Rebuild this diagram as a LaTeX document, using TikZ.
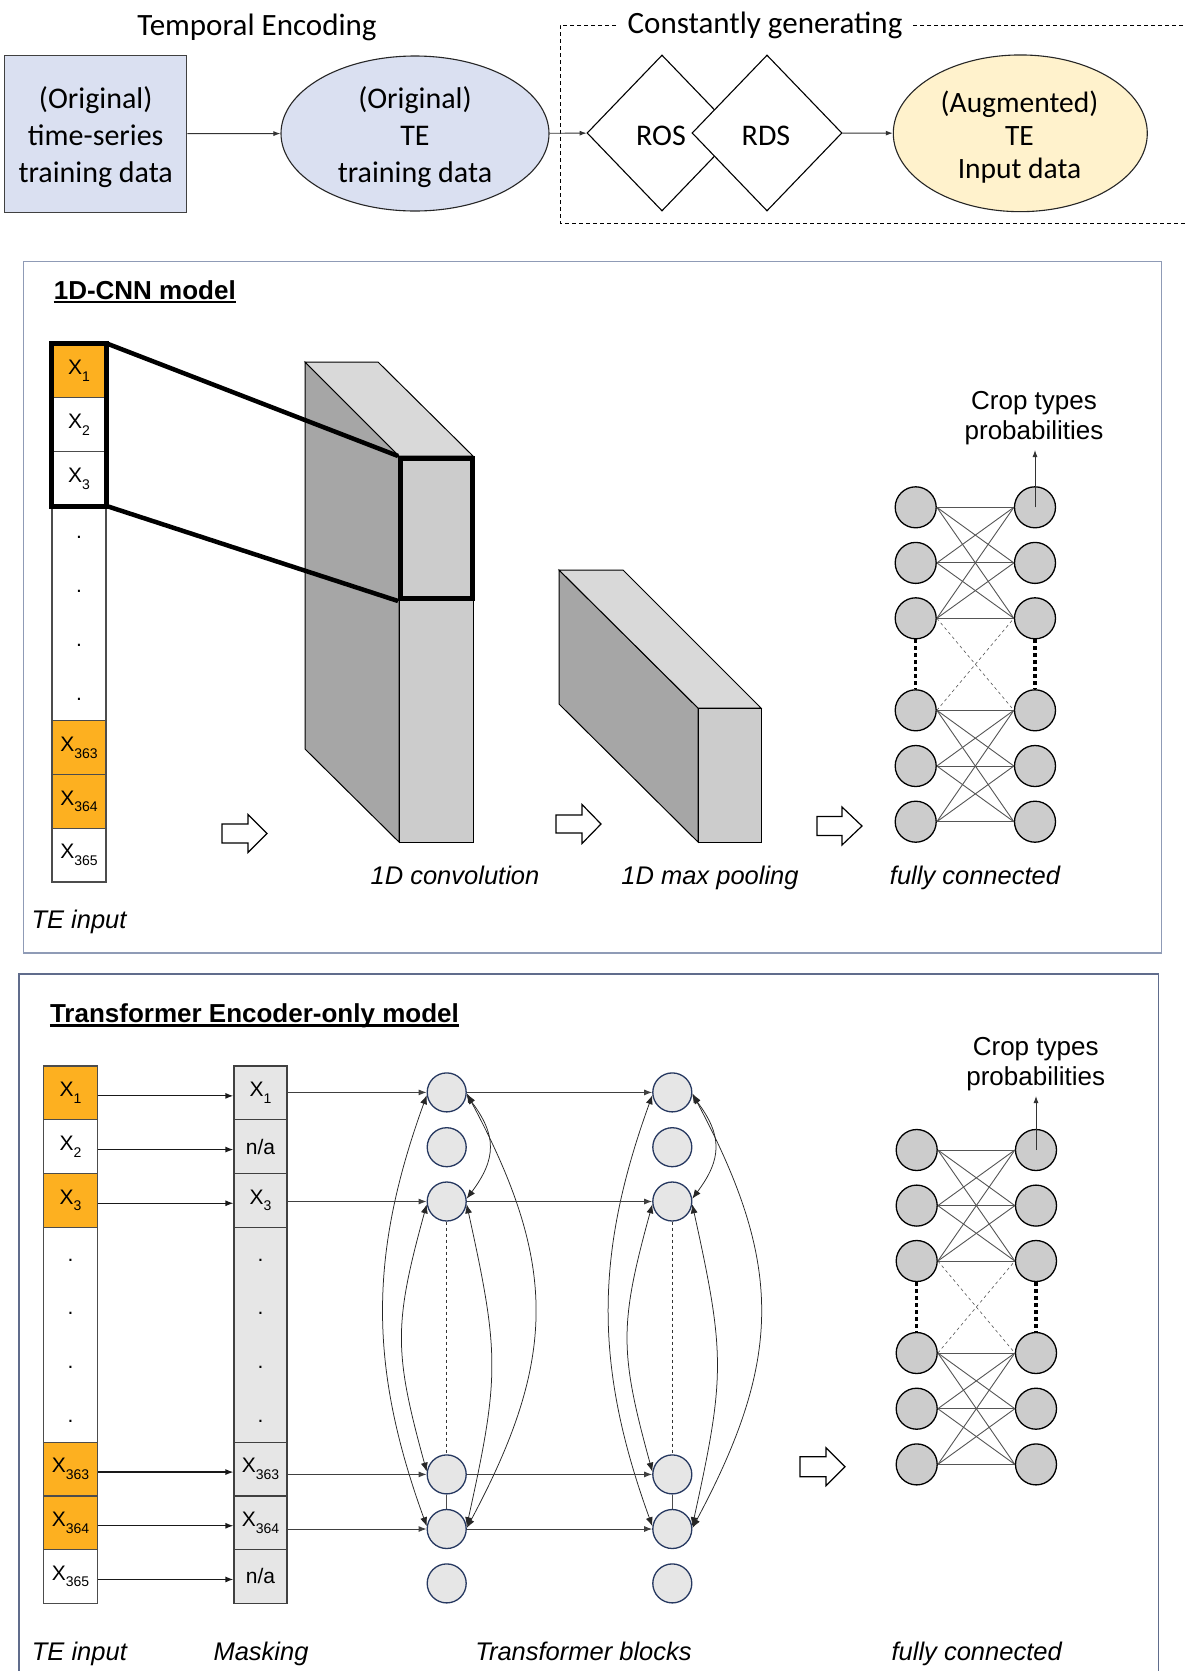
\documentclass[tikz,border=0pt]{standalone}
\usepackage{fontspec}
\setmainfont{Liberation Sans}
\newfontfamily\calibri{Carlito}
\usetikzlibrary{shapes.geometric,arrows.meta}
\definecolor{orangec}{RGB}{253,176,32}
\definecolor{bluefill}{RGB}{218,224,241}
\definecolor{yellowfill}{RGB}{255,242,204}
\definecolor{maskgrey}{RGB}{230,230,230}
\definecolor{nodegrey}{RGB}{204,204,204}
\definecolor{sidegrey}{RGB}{166,166,166}
\definecolor{frontgrey}{RGB}{204,204,204}
\definecolor{topgrey}{RGB}{217,217,217}
\definecolor{navyc}{RGB}{38,56,96}
\definecolor{panelA}{RGB}{143,155,182}
\definecolor{panelB}{RGB}{96,108,140}
\definecolor{edgegrey}{RGB}{85,85,85}
\newcommand\Xsub[1]{X\raisebox{-0.32em}{\fontsize{14}{14}\selectfont #1}}
\newcommand\fcnet[3]{%
  \foreach \i/\dy in {1/0,2/55.6,3/111,4/203,5/258.7,6/314.4}{%
    \node[fcnode] (#1L\i) at (#2,#3+\dy) {};
    \node[fcnode] (#1R\i) at (#2+119.3,#3+\dy) {};
  }%
  \foreach \i in {1,2,3}{\foreach \j in {1,2,3}{\draw[fcedge] (#1L\i.east) -- (#1R\j.west);}}%
  \foreach \i in {4,5,6}{\foreach \j in {4,5,6}{\draw[fcedge] (#1L\i.east) -- (#1R\j.west);}}%
  \draw[fcedge,dashed,line width=0.6pt] (#1L3.east) -- (#1R4.west);
  \draw[fcedge,dashed,line width=0.6pt] (#1L4.east) -- (#1R3.west);
  \draw[dotline] (#1L3.south) -- (#1L4.north);
  \draw[dotline] (#1R3.south) -- (#1R4.north);
}
\newcommand\tblock[2]{%
  \foreach \i/\yy in {1/1092.4,2/1147.2,3/1201.5,4/1474.4,5/1529,6/1583.4}{%
    \node[tnode] (#1\i) at (#2,\yy) {};}%
  \draw[dashed,draw=black!80,line width=0.8pt] (#13.south) -- (#14.north);
  \draw[draw=black!70,line width=0.8pt] (#14.south) -- (#15.north);
  \draw[arcarrow] (#11.188) .. controls +(-58,160) and +(-58,-160) .. (#15.172);
  \draw[arcarrow] (#13.188) .. controls +(-33,120) and +(-33,-120) .. (#14.172);
  \draw[arcarrow] (#11.352) .. controls +(30,40) and +(30,-40) .. (#13.8);
  \draw[arcarrow] (#13.352) .. controls +(33,150) and +(33,-150) .. (#15.8);
  \draw[arcarrow] (#11.357) .. controls +(91,170) and +(91,-170) .. (#15.3);
}
\begin{document}
\begin{tikzpicture}[x=1pt,y=-1pt,
  topfont/.style={font=\calibri\fontsize{30}{37}\selectfont},
  titlefont/.style={font=\calibri\fontsize{31}{37}\selectfont},
  toptext/.style={topfont,align=center,inner sep=0pt},
  topbox/.style={draw=black!75,line width=1.3pt,fill=bluefill,minimum width=182pt,minimum height=157pt,inner sep=0pt},
  topell/.style={ellipse,draw=black!85,line width=1.1pt,minimum width=268pt,minimum height=155pt,inner sep=0pt},
  diam/.style={diamond,draw=black,line width=1.1pt,fill=white,minimum width=150pt,minimum height=156pt,inner sep=0pt},
  tarrow/.style={-{Latex[length=7pt,width=5pt]},draw=black!80,line width=0.9pt},
  cellst/.style={draw=black!70,line width=1.2pt,minimum width=54pt,minimum height=53.8pt,inner sep=0pt,font=\fontsize{21}{21}\selectfont},
  mcell/.style={cellst,fill=maskgrey,draw=black!75,minimum width=53pt,minimum height=53.7pt},
  dotst/.style={inner sep=0pt,font=\fontsize{21}{21}\selectfont},
  fcnode/.style={circle,draw=black,line width=1.3pt,fill=nodegrey,minimum size=41pt,inner sep=0pt},
  fcedge/.style={draw=edgegrey,line width=0.9pt},
  dotline/.style={line width=3.5pt,dash pattern=on 3.5pt off 3.5pt},
  tnode/.style={circle,draw=navyc,line width=1.3pt,fill=maskgrey,minimum size=39pt,inner sep=0pt},
  arcarrow/.style={{Latex[length=9pt,width=7pt]}-{Latex[length=9pt,width=7pt]},draw=black!85,line width=0.75pt},
  harrow/.style={-{Latex[length=8pt,width=6pt]},draw=black!75,line width=0.9pt},
  harrowb/.style={-{Latex[length=8pt,width=6pt]},draw=black!90,line width=1.2pt},
  blockarrow/.style={draw=black,line width=1.2pt,fill=white},
  lbl/.style={font=\itshape\fontsize{25.5}{30}\selectfont,anchor=base},
  ttl/.style={font=\bfseries\fontsize{26}{30}\selectfont,inner sep=0pt,anchor=base west},
  crop/.style={font=\fontsize{26}{30.5}\selectfont,align=center}
]
\useasboundingbox (0,0) rectangle (1184,1671);
\fill[white] (0,0) rectangle (1184,1671);

% ---------------- top section ----------------
\node[titlefont] (tenc) at (257,27.5) {Temporal Encoding};
\draw[line width=1pt,dash pattern=on 4pt off 3pt] (1190,25) -- (560,25) -- (560,223) -- (1190,223);
\node[titlefont,fill=white,inner xsep=10pt,inner ysep=2pt] (cgen) at (765,25.5) {Constantly generating};
\node[topbox] (orig) at (95.7,133.7) {};
\node[toptext] (origt) at (95.7,137) {(Original)\\time-series\\training data};
\node[topell,fill=bluefill] (te) at (415,133.5) {};
\node[toptext] (tet) at (415,137) {(Original)\\TE\\training data};
\node[diam] (ros) at (662,133) {};
\node[topfont] (rost) at (661,135.5) {ROS};
\node[diam] (rds) at (767,133) {};
\node[topfont] (rdst) at (766,135.5) {RDS};
\node[topell,fill=yellowfill,minimum width=254pt,minimum height=156.7pt] (aug) at (1020.3,133.3) {};
\node[toptext,font=\calibri\fontsize{29.5}{33}\selectfont] (augt) at (1019.5,137) {(Augmented)\\TE\\Input data};
\draw[tarrow] (orig) -- (te);
\draw[tarrow] (te) -- (ros);
\draw[tarrow] (rds) -- (aug);

% ---------------- CNN panel ----------------
\draw[draw=panelA,line width=1.3pt] (23.5,261.5) rectangle (1161.5,953);
\node[ttl] (cnnt) at (53.6,299.5) {1D-CNN model};
\draw[line width=2.3pt] ([yshift=-2.5pt]cnnt.base west) -- ([yshift=-2.5pt]cnnt.base east);

% TE input column
\node[cellst,fill=orangec] (ca1) at (79,370.9) {\Xsub{1}};
\node[cellst,fill=white] (ca2) at (79,424.7) {\Xsub{2}};
\node[cellst,fill=white] (ca3) at (79,478.5) {\Xsub{3}};
\node[cellst,fill=white,minimum height=215.2pt] (ca4) at (79,613) {};
\node[cellst,fill=orangec] (ca8) at (79,747.5) {\Xsub{363}};
\node[cellst,fill=orangec] (ca9) at (79,801.3) {\Xsub{364}};
\node[cellst,fill=white] (ca10) at (79,855.1) {\Xsub{365}};
\foreach \k/\yy in {1/537.5,2/591.3,3/645.1,4/698.9}{\node[dotst] (cdot\k) at (79,\yy) {.};}
\draw[line width=5pt] (ca1.north west) rectangle (ca3.south east);

% conv block
\draw[line width=1pt,fill=sidegrey] (305,362) -- (399,456) -- (399,842) -- (305,749) -- cycle;
\draw[line width=1pt,fill=topgrey] (305,362) -- (378,362) -- (473,456) -- (399,456) -- cycle;
\draw[line width=1pt,fill=frontgrey] (399,456) rectangle (473,842);
\node[draw,line width=5pt,minimum width=71.5pt,minimum height=140pt,inner sep=0pt] (win) at (436.3,528.5) {};
\draw[line width=4.5pt] (ca1.north east) -- (win.north west);
\draw[line width=4.5pt] (ca3.south east) -- (win.south west);

% pooling block
\draw[line width=1pt,fill=sidegrey] (559,570) -- (698,708) -- (698,842) -- (559,704) -- cycle;
\draw[line width=1pt,fill=topgrey] (559,570) -- (623,570) -- (761,708) -- (698,708) -- cycle;
\draw[line width=1pt,fill=frontgrey] (698,708) rectangle (761,842);

% block arrows
\draw[blockarrow] (222,824) -- (248,824) -- (248,814.5) -- (267,833.5) -- (248,852.5) -- (248,843) -- (222,843) -- cycle;
\draw[blockarrow] (556,815) -- (582,815) -- (582,804.5) -- (601,824) -- (582,843.5) -- (582,833) -- (556,833) -- cycle;
\draw[blockarrow] (817,816.5) -- (842,816.5) -- (842,807) -- (862,826) -- (842,845) -- (842,835.5) -- (817,835.5) -- cycle;

% FC network (CNN)
\fcnet{a}{915.7}{507.3}
\coordinate (cropA) at (1035,450);
\draw[tarrow] (aR1.center) -- (cropA);
\node[crop] (cropAt) at (1034,418) {Crop types\\probabilities};

% labels
\node[lbl] (lteA) at (79,928) {TE input};
\node[lbl] (lconv) at (455,884.3) {1D convolution};
\node[lbl] (lpool) at (710,884.3) {1D max pooling};
\node[lbl] (lfcA) at (975,884.3) {fully connected};

% ---------------- Transformer panel ----------------
\draw[draw=panelB,line width=1.3pt] (19,974) rectangle (1158.3,1700);
\node[ttl] (trt) at (49.8,1022.6) {Transformer Encoder-only model};
\draw[line width=2.3pt] ([yshift=-3pt]trt.base west) -- ([yshift=-3pt]trt.base east);

% TE input column
\node[cellst,fill=orangec,minimum height=53.7pt] (t1) at (70.5,1092.85) {\Xsub{1}};
\node[cellst,fill=white,minimum height=53.7pt] (t2) at (70.5,1146.55) {\Xsub{2}};
\node[cellst,fill=orangec,minimum height=53.7pt] (t3) at (70.5,1200.25) {\Xsub{3}};
\node[cellst,fill=white,minimum height=214.8pt] (t4) at (70.5,1334.8) {};
\node[cellst,fill=orangec,minimum height=53.7pt] (t8) at (70.5,1469.05) {\Xsub{363}};
\node[cellst,fill=orangec,minimum height=53.7pt] (t9) at (70.5,1522.75) {\Xsub{364}};
\node[cellst,fill=white,minimum height=53.7pt] (t10) at (70.5,1576.45) {\Xsub{365}};
% masking column
\node[mcell] (m1) at (260.5,1092.85) {\Xsub{1}};
\node[mcell] (m2) at (260.5,1146.55) {n/a};
\node[mcell] (m3) at (260.5,1200.25) {\Xsub{3}};
\node[mcell,minimum height=214.8pt] (m4) at (260.5,1334.8) {};
\node[mcell] (m8) at (260.5,1469.05) {\Xsub{363}};
\node[mcell] (m9) at (260.5,1522.75) {\Xsub{364}};
\node[mcell] (m10) at (260.5,1576.45) {n/a};
\foreach \k/\yy in {1/1260,2/1313.7,3/1367.4,4/1421.1}{%
  \node[dotst] (tdot\k) at (70.5,\yy) {.};
  \node[dotst] (mdot\k) at (260.5,\yy) {.};}
\foreach \k in {1,2,3,8,9,10}{\draw[harrowb] ([yshift=-3pt]t\k.east) -- ([yshift=-3pt]m\k.west);}

% transformer blocks
\tblock{pa}{446.7}
\tblock{pb}{672.3}
\foreach \r/\c in {1/1,3/3,8/4,9/5}{%
  \draw[harrow] (m\r.east |- pa\c) -- (pa\c.west);
  \draw[harrow] (pa\c.east) -- (pb\c.west);}

% block arrow + FC network (transformer)
\draw[blockarrow] (800,1456.7) -- (826,1456.7) -- (826,1447.7) -- (845,1466.7) -- (826,1485.7) -- (826,1476.7) -- (800,1476.7) -- cycle;
\fcnet{b}{916.7}{1150}
\coordinate (cropB) at (1036,1096);
\draw[tarrow] (bR1.center) -- (cropB);
\node[crop] (cropBt) at (1035.7,1064) {Crop types\\probabilities};

% labels
\node[lbl] (lteB) at (79.4,1660.3) {TE input};
\node[lbl] (lmask) at (261,1660.3) {Masking};
\node[lbl] (ltrb) at (583.5,1660.3) {Transformer blocks};
\node[lbl] (lfcB) at (976.7,1660.3) {fully connected};
\end{tikzpicture}
\end{document}
